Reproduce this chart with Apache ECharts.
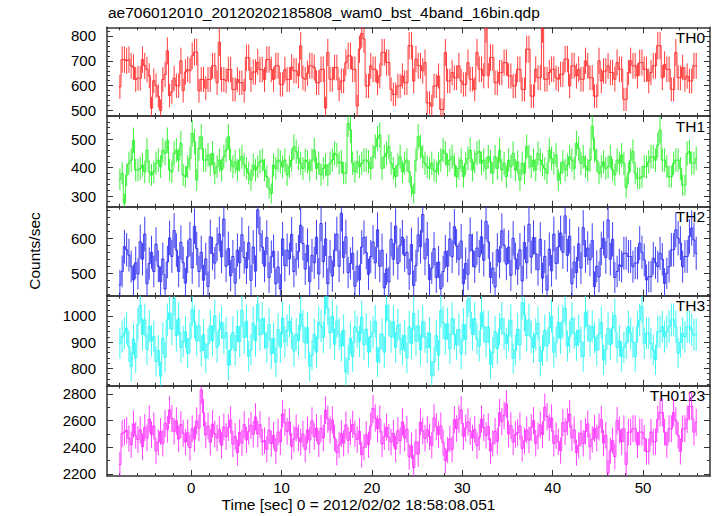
<!DOCTYPE html>
<html><head><meta charset="utf-8">
<script src="https://cdn.jsdelivr.net/npm/echarts@6/dist/echarts.min.js"></script>
<style>html,body{margin:0;padding:0;background:#fff}#c{width:717px;height:516px}</style>
</head><body><div id="c"></div>
<script>
const titleText = 'ae706012010_20120202185808_wam0_bst_4band_16bin.qdp';
const xAxisName = 'Time [sec] 0 = 2012/02/02 18:58:08.051';
const yAxisName = 'Counts/sec';
const panelNames = ['TH0', 'TH1', 'TH2', 'TH3', 'TH0123'];
const tStart = -8;
const binWidth = 0.25;
const xTickLabels = [0, 10, 20, 30, 40, 50];
const yTickLabels = [[500, 600, 700, 800], [300, 400, 500], [500, 600], [800, 900, 1000], [2200, 2400, 2600, 2800]];

const th0 = [595,705,705,700,705,680,675,625,630,630,705,680,665,640,510,620,
600,558,500,625,645,740,560,575,630,600,600,700,580,655,665,660,
720,735,735,580,625,625,590,625,625,680,680,612,775,625,625,620,
665,665,585,585,625,612,612,580,713,713,625,655,655,695,665,665,
625,705,705,665,625,680,680,605,605,665,625,625,675,660,660,640,
760,632,626,650,680,680,673,612,612,666,666,510,734,626,626,673,
673,585,619,619,693,720,720,666,666,518,747,810,788,599,599,680,
666,666,612,640,734,734,693,693,585,565,565,599,599,639,612,612,
761,761,619,707,680,680,660,693,531,531,518,599,599,639,504,504,
734,619,619,653,632,632,680,619,605,605,693,626,626,585,734,666,
666,640,830,640,713,713,612,612,653,653,693,693,639,639,599,599,
666,666,585,585,747,747,558,558,666,632,632,830,626,626,653,666,
666,632,626,646,646,707,707,599,680,680,639,666,626,626,700,680,
632,632,558,558,700,619,659,659,680,653,653,626,693,666,666,545,
545,653,700,680,680,639,693,693,666,666,619,653,680,680,761,761,
632,686,666,666,585,585,734,632,632,673,626,639,619,619,680,680];

const th1 = [358,380,275,374,415,426,496,391,391,397,409,385,461,385,374,385,
415,426,403,461,450,496,391,385,450,461,426,485,374,368,403,432,
520,491,356,467,508,426,426,444,409,450,380,403,426,391,438,461,
508,426,403,420,391,426,438,409,397,380,356,409,391,403,420,426,
391,368,327,309,409,397,426,420,403,426,374,403,426,473,456,432,
415,397,426,420,391,426,461,397,415,374,397,409,374,415,426,450,
444,415,420,380,380,555,532,415,385,420,403,415,426,426,420,397,
438,473,502,514,397,438,450,473,415,397,368,409,438,385,415,426,
385,333,309,426,508,473,438,415,403,397,415,391,385,415,426,461,
450,409,426,438,409,368,397,426,368,415,432,461,391,420,450,456,
415,426,397,438,420,380,438,397,461,391,415,368,426,403,450,391,
420,356,415,380,473,438,403,426,391,450,426,409,397,380,461,432,
415,444,356,380,420,391,409,438,426,397,485,467,415,438,403,391,
426,545,461,426,380,403,420,397,403,438,391,374,426,415,444,415,
330,380,426,456,380,362,362,368,403,403,420,438,438,426,479,532,
426,426,403,368,368,415,426,426,397,338,338,450,456,415,415,432];

const th2 = [467,505,576,567,552,519,481,530,498,590,540,612,470,528,560,505,
583,520,476,541,455,532,601,548,622,566,505,588,530,472,547,598,
515,634,571,505,560,480,541,462,604,556,529,583,612,547,655,520,
571,493,548,472,566,530,610,545,515,587,480,575,506,681,612,575,
520,602,488,547,563,470,518,455,598,522,566,541,611,505,540,562,
637,585,512,580,476,551,530,603,498,642,533,598,470,548,492,566,
612,520,671,545,604,502,528,557,463,520,481,575,602,559,497,548,
589,530,624,520,566,458,512,475,597,540,635,528,580,603,551,560,
497,582,465,522,610,576,668,541,598,482,515,570,488,532,456,505,
562,520,598,547,633,578,540,592,470,528,497,610,565,518,572,548,
604,537,648,590,488,515,461,567,532,621,580,526,575,494,600,541,
512,567,478,588,530,640,546,602,556,510,597,486,548,452,569,507,
612,528,575,615,560,664,551,606,470,532,502,584,515,630,548,572,
538,594,462,520,490,571,600,545,652,540,597,488,505,524,
519,557,557,548,548,519,529,529,586,560,538,481,490,490,543,530,
519,557,540,471,500,519,567,567,624,600,586,519,548,548,605,629,595,557];

const th3 = [896,921,934,953,883,807,912,840,968,1040,930,985,872,960,905,921,
826,868,770,915,842,985,1012,950,1068,925,990,880,902,940,858,913,
1025,978,905,962,866,928,840,893,962,905,1000,880,948,975,915,936,
812,870,937,868,960,902,1022,918,980,846,871,972,905,1045,928,990,
934,880,968,857,915,823,948,880,992,901,945,980,935,866,930,905,
1008,961,897,955,808,850,930,862,975,962,918,1072,1030,935,1000,892,
980,930,885,945,786,832,915,845,958,940,903,996,890,950,862,921,
938,980,825,876,930,862,1040,985,920,978,880,965,913,872,925,840,
958,895,1010,905,962,870,978,920,880,935,772,826,925,850,1020,975,
912,970,875,990,930,890,948,855,968,910,1062,1015,930,990,912,885,
1012,960,900,958,815,860,940,875,950,990,932,895,928,982,838,870,
950,890,1050,1005,925,985,918,880,930,972,826,868,945,885,955,1000,
862,900,975,915,980,1030,885,920,990,935,888,945,900,845,1015,962,
905,960,918,868,930,975,832,872,952,890,955,1002,880,905,
845,880,896,959,934,900,845,959,985,1036,896,934,934,896,870,832,
940,940,959,921,940,960,985,985,959,858,900,934,921,959,959,947,928,928];

const th0123 = [2272,2502,2514,2527,2466,2420,2575,2490,2458,2530,2405,2548,2470,2612,2495,2560,
2372,2440,2518,2430,2580,2535,2680,2615,2520,2598,2462,2570,2505,2440,2510,2398,
2540,2462,2598,2545,2830,2660,2492,2560,2438,2575,2500,2470,2532,2415,2552,2480,
2548,2605,2425,2482,2360,2510,2432,2570,2455,2520,2565,2498,2628,2500,2570,2440,
2450,2385,2528,2428,2490,2372,2515,2440,2650,2585,2520,2590,2408,2462,2545,2470,
2440,2500,2385,2530,2455,2598,2480,2545,2425,2542,2470,2678,2612,2530,2605,2470,
2362,2418,2502,2430,2568,2452,2515,2572,2500,2458,2520,2345,2400,2495,2420,2560,
2690,2620,2540,2612,2425,2480,2550,2475,2440,2505,2388,2525,2450,2590,2470,2535,
2330,2412,2248,2440,2350,2590,2522,2468,2532,2480,2415,2620,2555,2495,2560,2435,
2300,2378,2462,2385,2608,2540,2612,2680,2482,2545,2590,2520,2470,2535,2412,2475,
2612,2548,2490,2555,2372,2430,2520,2445,2660,2592,2640,2725,2500,2565,2440,2495,
2510,2560,2392,2448,2530,2455,2548,2600,2430,2485,2568,2495,2700,2630,2550,2620,
2430,2488,2442,2375,2585,2518,2592,2650,2470,2530,2360,2415,2505,2430,2520,2575,
2405,2460,2542,2470,2552,2608,2432,2490,2210,2375,2450,2330,2600,2530,
2442,2539,2272,2514,2514,2539,2539,2418,2514,2514,2466,2369,2369,2514,2442,2442,
2611,2660,2660,2514,2418,2539,2539,2660,2600,2490,2369,2539,2539,2611,2708,2708,2514,2587];

const seriesValues = [th0, th1, th2, th3, th0123];

// ---- layout / style ----
const colors = ['#ff2626', '#26f026', '#2a2af0', '#26f5f5', '#ff2aff'];
const yRanges = [[478, 835], [262.5, 581], [436, 690], [733.6, 1077.5], [2185, 2862]];
const yMinorStep = [20, 20, 20, 20, 100];
const panelTops = [27.3, 116, 206.7, 295.7, 385.7, 476];
const xMin = -9.3, xMax = 57.4;
const font = "'Liberation Sans', Arial, Helvetica, sans-serif";
const frameColor = '#333';

function range(a, b, s) { const r = []; for (let v = Math.ceil(a / s) * s; v <= b + 1e-9; v += s) r.push(+v.toFixed(6)); return r; }
const xMinor = range(xMin, xMax, 2);
const plain = v => String(v);

const grids = [], xAxes = [], yAxes = [], series = [], graphics = [];
for (let k = 0; k < 5; k++) {
  grids.push({ left: 107, right: 7, top: panelTops[k], height: panelTops[k + 1] - panelTops[k], containLabel: false });
  const line = { show: true, onZero: false, lineStyle: { color: frameColor, width: 1.5 } };
  const noLine = { show: false, onZero: false };
  const mkX = (pos, ticks, len, showLine, labels) => ({
    type: 'value', gridIndex: k, position: pos, min: xMin, max: xMax,
    axisLine: showLine ? line : noLine,
    axisTick: { show: true, inside: true, length: len, customValues: ticks, lineStyle: { color: frameColor, width: 1 } },
    axisLabel: labels ? { show: true, customValues: xTickLabels, formatter: plain, fontSize: 15, color: '#000', fontFamily: font, margin: 4 } : { show: false },
    splitLine: { show: false }
  });
  xAxes.push(mkX('bottom', xTickLabels, 6, true, k === 4));
  xAxes.push(mkX('bottom', xMinor, 3, false, false));
  xAxes.push(mkX('top', xTickLabels, 6, true, false));
  xAxes.push(mkX('top', xMinor, 3, false, false));
  const yr = yRanges[k];
  const yMinor = range(yr[0], yr[1], yMinorStep[k]);
  const mkY = (pos, ticks, len, showLine, labels) => ({
    type: 'value', gridIndex: k, position: pos, min: yr[0], max: yr[1],
    axisLine: showLine ? line : noLine,
    axisTick: { show: true, inside: true, length: len, customValues: ticks, lineStyle: { color: frameColor, width: 1 } },
    axisLabel: labels ? { show: true, customValues: yTickLabels[k], formatter: plain, fontSize: 15, color: '#000', fontFamily: font, margin: 11 } : { show: false },
    splitLine: { show: false }
  });
  yAxes.push(mkY('left', yTickLabels[k], 6, true, true));
  yAxes.push(mkY('left', yMinor, 3, false, false));
  yAxes.push(mkY('right', yTickLabels[k], 6, true, false));
  yAxes.push(mkY('right', yMinor, 3, false, false));

  const vals = seriesValues[k];
  const data = vals.map((v, i) => [tStart + binWidth * (i + 0.5), v, i > 0 ? vals[i - 1] : NaN, Math.sqrt(v * binWidth) / binWidth]);
  const col = colors[k];
  series.push({
    type: 'custom', xAxisIndex: 4 * k, yAxisIndex: 4 * k, clip: true, silent: true,
    data: data,
    renderItem: function (params, api) {
      const t = api.value(0), v = api.value(1), vp = api.value(2), e = api.value(3);
      const a = api.coord([t - binWidth / 2, v]);
      const b = api.coord([t + binWidth / 2, v]);
      const et = api.coord([t, v + e]);
      const eb = api.coord([t, v - e]);
      const st = { stroke: col, lineWidth: 1, opacity: 0.9 };
      const ch = [
        { type: 'line', shape: { x1: a[0], y1: a[1], x2: b[0], y2: b[1] }, style: st },
        { type: 'line', shape: { x1: et[0], y1: et[1], x2: eb[0], y2: eb[1] }, style: st }
      ];
      if (!isNaN(vp)) {
        const q = api.coord([t - binWidth / 2, vp]);
        ch.push({ type: 'line', shape: { x1: q[0], y1: q[1], x2: a[0], y2: a[1] }, style: st });
      }
      return { type: 'group', children: ch };
    }
  });
  graphics.push({ type: 'text', right: 12, top: panelTops[k] + 2, style: { text: panelNames[k], font: '15.5px ' + font, fill: '#000' } });
}

graphics.push({ type: 'text', left: 108, top: 4, style: { text: titleText, font: '15.5px ' + font, fill: '#000' } });
graphics.push({ type: 'text', left: 'center', top: 496, style: { text: xAxisName, font: '15.5px ' + font, fill: '#000' } });
graphics.push({ type: 'text', x: 34, y: 251, rotation: Math.PI / 2, style: { text: yAxisName, font: '15.5px ' + font, fill: '#000', align: 'center', verticalAlign: 'middle' } });

const chart = echarts.init(document.getElementById('c'), null, { renderer: 'svg' });
chart.setOption({
  animation: false,
  backgroundColor: '#fff',
  grid: grids, xAxis: xAxes, yAxis: yAxes, series: series, graphic: graphics
});
</script></body></html>
